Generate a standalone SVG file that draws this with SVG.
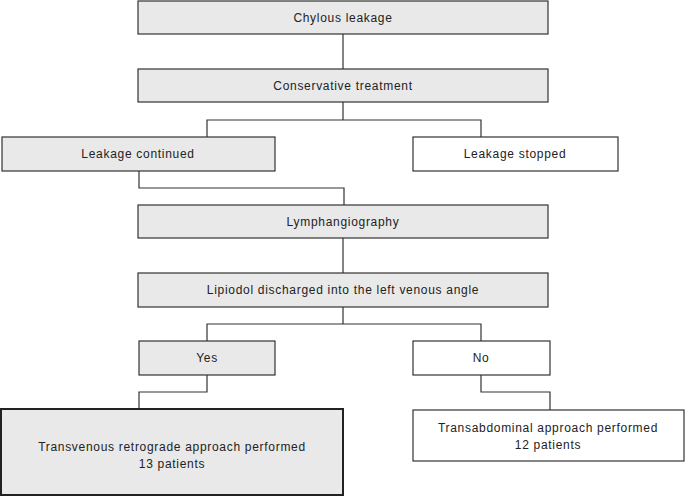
<svg xmlns="http://www.w3.org/2000/svg" width="685" height="497" viewBox="0 0 685 497">
<style>
.b{stroke:#333;stroke-width:1.2;}
.g{fill:#e9e9e9;}
.w{fill:#fff;}
.t{font-family:"Liberation Sans",Arial,sans-serif;font-size:12px;fill:#222;text-anchor:middle;letter-spacing:0.7px;}
.c{fill:none;stroke:#333;stroke-width:1.2;}
</style>
<rect width="685" height="497" fill="#fff"/>
<g id="connectors">
<path class="c" d="M343,34 V69"/>
<path class="c" d="M343,102 V120 M207,137 V120 H481 V137"/>
<path class="c" d="M139,171 V188 H344 V205"/>
<path class="c" d="M343,238 V273"/>
<path class="c" d="M343,307 V324 M207,341 V324 H481 V341"/>
<path class="c" d="M207,375 V392 H139 V409"/>
<path class="c" d="M481,375 V392 H550 V410"/>
</g>
<g id="n1"><rect class="b g" x="138" y="1" width="410" height="33"/><text class="t" x="343" y="22">Chylous leakage</text></g>
<g id="n2"><rect class="b g" x="138" y="69" width="410" height="33"/><text class="t" x="343" y="90">Conservative treatment</text></g>
<g id="n3"><rect class="b g" x="2" y="137" width="273" height="34"/><text class="t" x="138" y="158">Leakage continued</text></g>
<g id="n4"><rect class="b w" x="413" y="137" width="205" height="34"/><text class="t" x="515" y="158">Leakage stopped</text></g>
<g id="n5"><rect class="b g" x="138" y="205" width="410" height="33"/><text class="t" x="343" y="226">Lymphangiography</text></g>
<g id="n6"><rect class="b g" x="138" y="273" width="410" height="34"/><text class="t" x="343" y="294">Lipiodol discharged into the left venous angle</text></g>
<g id="n7"><rect class="b g" x="139" y="341" width="136" height="34"/><text class="t" x="207" y="362">Yes</text></g>
<g id="n8"><rect class="b w" x="413" y="341" width="137" height="34"/><text class="t" x="481" y="362">No</text></g>
<g id="n9"><rect class="g" x="1" y="409" width="342" height="86" stroke="#222" stroke-width="2"/><text class="t" x="172" y="451">Transvenous retrograde approach performed</text><text class="t" x="172" y="468">13 patients</text></g>
<g id="n10"><rect class="b w" x="413" y="410" width="271" height="51"/><text class="t" x="548" y="432">Transabdominal approach performed</text><text class="t" x="548" y="449">12 patients</text></g>
</svg>
